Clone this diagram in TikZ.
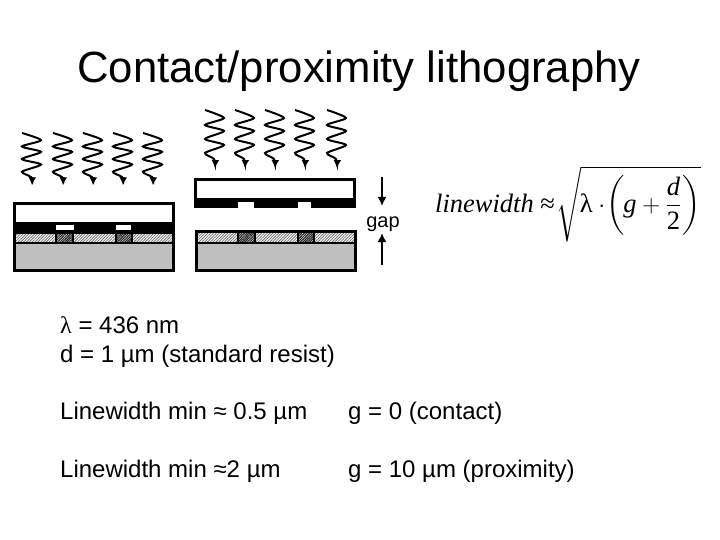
\documentclass[tikz,border=0pt]{standalone}
\usepackage{amsmath}
\usepackage{fontspec}
\setmainfont{Liberation Sans}
\newfontfamily\serifface{Liberation Serif}
\usetikzlibrary{patterns.meta,arrows.meta}
\definecolor{substrate}{HTML}{BFBFBF}
\tikzset{
  frame/.style={draw=black,line width=3pt},
  resistlight/.style={pattern={Lines[angle=45,distance=2pt,line width=.8pt]},pattern color=black!55},
  resistdark/.style={fill=black!35,pattern={Lines[angle=45,distance=1.7pt,line width=1pt]},pattern color=black!85},
  wavy/.style={line width=2pt,-{Latex[length=8pt,width=8pt]}},
  gaparrow/.style={line width=2pt,-{Latex[length=9pt,width=9pt]}},
  txt/.style={anchor=base west,inner sep=0pt,font=\fontsize{24}{28}\selectfont},
  photon/.pic={
    \draw[wavy] plot[smooth,tension=.45] coordinates {(0,0) (19,8) (0,15) (19,21) (0,29) (19,35) (0,43) (9,49) (10,58)};
  },
  wafer/.pic={
    \fill[substrate] (0,14) rectangle (162,42);
    \fill[white] (0,3) rectangle (162,12);
    \path[resistlight] (0,3) rectangle (162,12);
    \path[resistdark] (43,3) rectangle (60,12);
    \path[resistdark] (103,3) rectangle (119,12);
    \draw[black,line width=1.5pt] (43,3)--(43,12) (60,3)--(60,12) (103,3)--(103,12) (119,3)--(119,12);
    \draw[black,line width=2pt] (0,13)--(162,13);
    \draw[frame] (1.5,1.5) rectangle (160.5,40.5);
  }
}
\begin{document}
\begin{tikzpicture}[x=1pt,y=-1pt]
  \useasboundingbox (0,0) rectangle (720,540);
  % title
  \node[anchor=base,inner sep=0pt,font=\fontsize{43.7}{50}\selectfont] (title) at (359,83) {Contact/proximity lithography};
  % left: contact
  \foreach \px in {22,53,83,113,143}
    \pic[yscale=.9] at (\px,133) {photon};
  \fill[black] (13,222) rectangle (175,232);
  \pic at (13,230) {wafer};
  \draw[frame] (14.5,203.5) rectangle (173.5,232);
  \fill[white] (56,225) rectangle (74,230);
  \fill[white] (116,225) rectangle (131,230);
  % middle: proximity
  \foreach \px in {205,235,265,295,327}
    \pic at (\px,110) {photon};
  \fill[black] (194,199) rectangle (356,208);
  \draw[frame] (195.5,179.5) rectangle (354.5,200);
  \fill[white] (238,202) rectangle (254,208.5);
  \fill[white] (298,202) rectangle (311,208.5);
  \pic at (195,230) {wafer};
  % gap
  \coordinate (gaptop) at (382,177);
  \coordinate (gapdown) at (382,206);
  \coordinate (gapbottom) at (382,265);
  \coordinate (gapup) at (382,233);
  \draw[gaparrow] (gaptop)--(gapdown);
  \draw[gaparrow] (gapbottom)--(gapup);
  \node[anchor=base,inner sep=0pt,font=\fontsize{20}{22}\selectfont] (gap) at (383,228) {gap};
  % formula
  \node[anchor=base west,inner sep=0pt,font=\serifface\fontsize{26.5}{30}\selectfont] (formula) at (435,212)
    {\textit{linewidth} ≈$\mskip1mu\sqrt{\mskip-1mu\text{λ}\cdot\mskip-3mu\left(\mskip-1mu\text{\textit{g}}+\dfrac{\text{\textit{d}}}{\text{2}}\mskip1mu\right)}$};
  % text
  \node[txt] (lambda) at (60,333) {{\serifface λ} = 436 nm};
  \node[txt] (resist) at (60,362) {d = 1 µm (standard resist)};
  \node[txt] (lwa) at (60,419) {Linewidth min ≈ 0.5 µm};
  \node[txt] (ga) at (348,419) {g = 0 (contact)};
  \node[txt] (lwb) at (60,477) {Linewidth min ≈2 µm};
  \node[txt] (gb) at (348,477) {g = 10 µm (proximity)};
\end{tikzpicture}
\end{document}
